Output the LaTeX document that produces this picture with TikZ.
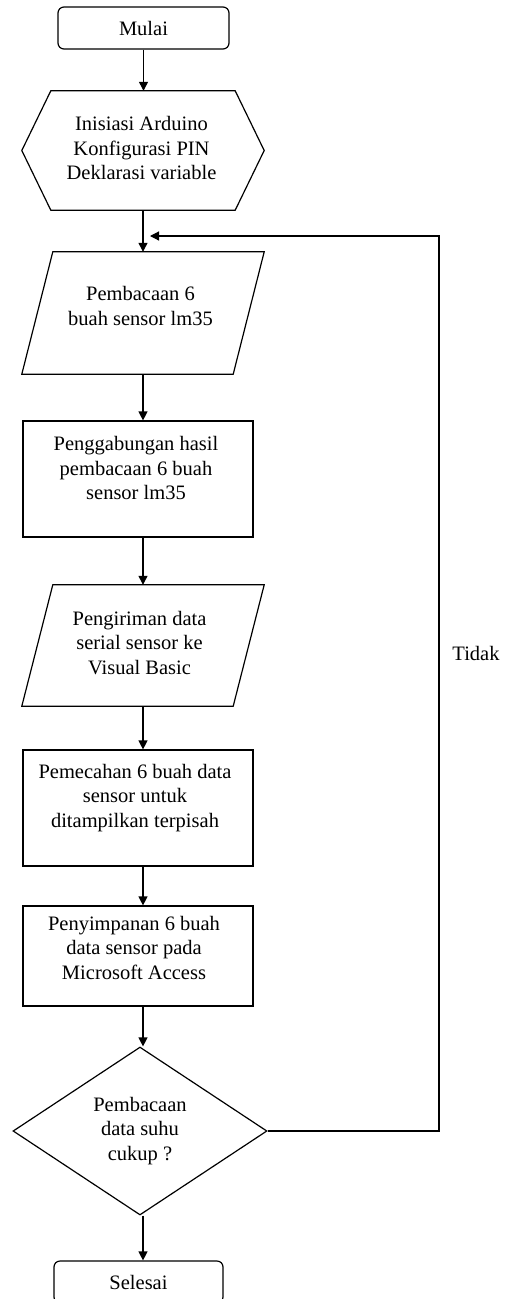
\documentclass[tikz,border=0pt]{standalone}
\usepackage{fontspec}
\setmainfont{Liberation Serif}
\usetikzlibrary{shapes.geometric,arrows.meta,calc}
\begin{document}
\begin{tikzpicture}[x=1pt,y=-1pt,
  every node/.style={font=\fontsize{20.5}{24.5}\selectfont},
  line/.style={line width=1.2pt},
  arr/.style={line width=1.2pt,-{Triangle[length=9pt,width=9pt]}},
  shapebox/.style={draw=none,rectangle,inner sep=0pt},
  rect/.style={draw,line width=1.2pt,rectangle,inner sep=0pt},
  term/.style={draw,line width=1.2pt,rectangle,rounded corners=6pt,inner sep=0pt},
  lbl/.style={align=center,inner sep=0pt}]
\useasboundingbox (0,0) rectangle (510,1299);

% terminals
\node[term,minimum width=171,minimum height=42] (mulai) at (143.5,28) {Mulai};
\node[term,minimum width=169,minimum height=42] (selesai) at (138.5,1282) {Selesai};

% preparation hexagon
\node[shapebox,minimum width=242,minimum height=119] (hex) at (143,150.5) {};
\draw[line] ($(hex.north west)+(29,0)$) -- ($(hex.north east)+(-29,0)$) -- (hex.east)
  -- ($(hex.south east)+(-29,0)$) -- ($(hex.south west)+(29,0)$) -- (hex.west) -- cycle;
\node[lbl] (hext) at (141.5,148) {Inisiasi Arduino\\Konfigurasi PIN\\Deklarasi variable};

% input 1
\node[shapebox,minimum width=242,minimum height=122] (in1) at (143,313) {};
\draw[line] ($(in1.north west)+(31,0)$) -- (in1.north east) -- ($(in1.south east)+(-31,0)$)
  -- (in1.south west) -- cycle;
\node[lbl] (in1t) at (140.5,306) {Pembacaan 6\\buah sensor lm35};

% process 1
\node[rect,minimum width=230,minimum height=116] (gab) at (138,479) {};
\node[lbl] (gabt) at (136,468) {Penggabungan hasil\\pembacaan 6 buah\\sensor lm35};

% input 2
\node[shapebox,minimum width=242,minimum height=121] (in2) at (143,645.5) {};
\draw[line] ($(in2.north west)+(31,0)$) -- (in2.north east) -- ($(in2.south east)+(-31,0)$)
  -- (in2.south west) -- cycle;
\node[lbl] (in2t) at (139.5,643) {Pengiriman data\\serial sensor ke\\Visual Basic};

% process 2
\node[rect,minimum width=230,minimum height=116] (pec) at (138,808) {};
\node[lbl] (pect) at (135,798) {Pemecahan 6 buah data\\sensor untuk\\ditampilkan terpisah};

% process 3
\node[rect,minimum width=230,minimum height=100] (simpan) at (138,956) {};
\node[lbl] (simpant) at (134,947.5) {Penyimpanan 6 buah\\data sensor pada\\Microsoft Access};

% decision
\node[draw,line width=1.2pt,diamond,aspect=1.512,minimum width=254,minimum height=168,inner sep=0pt,align=center] (cek) at (140,1131) {Pembacaan\\data suhu\\cukup ?};

% connectors
\draw[arr] (mulai.south) -- (mulai.south |- hex.north);
\draw[arr] (hex.south) -- (in1.north);
\draw[arr] (in1.south) -- (in1.south |- gab.north);
\draw[arr] (in2.north |- gab.south) -- (in2.north);
\draw[arr] (in2.south) -- (in2.south |- pec.north);
\draw[arr] (in2.south |- pec.south) -- (in2.south |- simpan.north);
\draw[arr] (in2.south |- simpan.south) -- (in2.south |- cek.north);
\draw[arr] (in2.south |- cek.south) -- (in2.south |- selesai.north);

% loop back
\coordinate (corner) at (439,236);
\coordinate (join) at (150,236);
\draw[arr] (cek.east) -| (corner) -- (join);
\node (tidak) at (476,653) {Tidak};
\end{tikzpicture}
\end{document}
